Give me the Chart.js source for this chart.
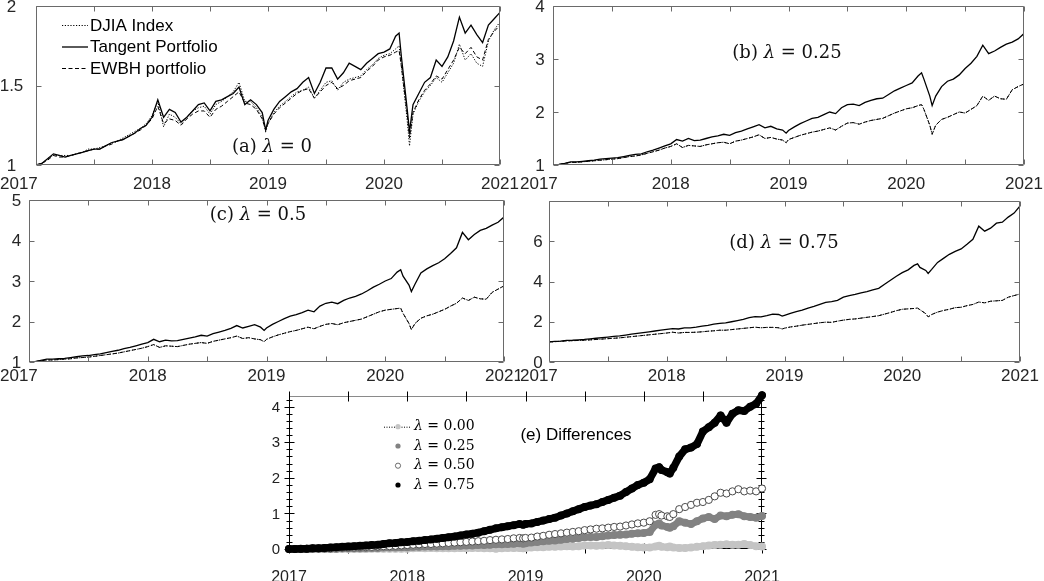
<!DOCTYPE html>
<html>
<head>
<meta charset="utf-8">
<script src="https://cdn.jsdelivr.net/npm/chart.js@4.4.1/dist/chart.umd.min.js"></script>
<style>
  html, body { margin: 0; padding: 0; background: #fff; }
  #fig { position: relative; width: 1044px; height: 581px; overflow: hidden; }
  #fig canvas { position: absolute; }
</style>
</head>
<body>
<div id="fig">
  <canvas id="pa" width="520" height="190" style="left:0;top:0"></canvas>
  <canvas id="pb" width="524" height="190" style="left:520px;top:0"></canvas>
  <canvas id="pc" width="520" height="195" style="left:0;top:190px"></canvas>
  <canvas id="pd" width="524" height="195" style="left:520px;top:190px"></canvas>
  <canvas id="pe" width="540" height="196" style="left:240px;top:385px"></canvas>
</div>
<script>
// ═══════════════════════════════════════════════════════
// DATA · decimal years shared by every panel
// ═══════════════════════════════════════════════════════
const T = [
  2017.00,2017.05,2017.10,2017.15,2017.20,2017.25,2017.30,2017.35,2017.40,2017.45,2017.50,2017.55,2017.60,2017.65,2017.70,2017.75,2017.80,2017.85,2017.90,2017.95,
  2018.00,2018.05,2018.10,2018.15,2018.20,2018.25,2018.30,2018.35,2018.40,2018.45,2018.50,2018.55,2018.60,2018.65,2018.70,2018.75,2018.80,2018.85,2018.90,2018.95,2018.98,
  2019.00,2019.05,2019.10,2019.15,2019.20,2019.25,2019.30,2019.35,2019.40,2019.45,2019.50,2019.55,2019.60,2019.65,2019.70,2019.75,2019.80,2019.85,2019.90,2019.95,
  2020.00,2020.05,2020.10,2020.13,2020.15,2020.20,2020.22,2020.25,2020.30,2020.35,2020.40,2020.45,2020.50,2020.55,2020.60,2020.65,2020.70,2020.75,2020.80,2020.85,2020.90,2020.95,
  2021.00];

// (a) λ = 0
const A_DJIA = [
  1.00,1.01,1.04,1.06,1.06,1.06,1.06,1.07,1.08,1.10,1.10,1.11,1.12,1.14,1.15,1.17,1.19,1.21,1.23,1.26,
  1.31,1.40,1.24,1.32,1.30,1.26,1.30,1.34,1.36,1.37,1.32,1.38,1.40,1.43,1.46,1.52,1.40,1.40,1.36,1.30,1.21,
  1.26,1.33,1.37,1.40,1.43,1.46,1.47,1.49,1.42,1.47,1.52,1.53,1.47,1.52,1.54,1.55,1.56,1.60,1.63,1.67,
  1.69,1.70,1.73,1.75,1.62,1.28,1.12,1.32,1.40,1.46,1.50,1.55,1.52,1.58,1.64,1.76,1.66,1.70,1.64,1.62,1.78,1.85,
  1.90];
const A_TANGENT = [
  1.00,1.01,1.04,1.07,1.06,1.05,1.06,1.07,1.08,1.09,1.10,1.10,1.12,1.14,1.15,1.16,1.18,1.20,1.23,1.25,
  1.30,1.41,1.30,1.35,1.33,1.27,1.30,1.34,1.38,1.39,1.34,1.40,1.41,1.43,1.45,1.49,1.38,1.41,1.38,1.33,1.22,
  1.28,1.35,1.40,1.43,1.46,1.48,1.52,1.55,1.45,1.52,1.61,1.61,1.54,1.58,1.64,1.62,1.60,1.64,1.67,1.70,
  1.71,1.73,1.81,1.83,1.68,1.35,1.21,1.38,1.45,1.52,1.55,1.66,1.62,1.68,1.78,1.93,1.83,1.88,1.82,1.77,1.88,1.92,
  1.96];
const A_EWBH = [
  1.00,1.01,1.03,1.06,1.05,1.05,1.06,1.07,1.08,1.09,1.10,1.10,1.12,1.13,1.15,1.16,1.18,1.20,1.22,1.25,
  1.29,1.37,1.26,1.29,1.28,1.25,1.29,1.32,1.34,1.34,1.30,1.35,1.37,1.40,1.43,1.46,1.39,1.38,1.35,1.29,1.22,
  1.26,1.32,1.36,1.39,1.42,1.45,1.47,1.48,1.42,1.46,1.50,1.52,1.48,1.50,1.53,1.54,1.55,1.59,1.62,1.66,
  1.68,1.69,1.71,1.72,1.62,1.32,1.17,1.33,1.41,1.47,1.51,1.56,1.54,1.60,1.66,1.74,1.70,1.74,1.68,1.66,1.79,1.84,
  1.88];

// (b) λ = 0.25
const B_TANGENT = [
  1.00,1.01,1.03,1.06,1.06,1.07,1.08,1.09,1.11,1.12,1.13,1.14,1.16,1.18,1.20,1.21,1.25,1.28,1.32,1.36,
  1.40,1.48,1.45,1.50,1.46,1.47,1.50,1.53,1.55,1.58,1.56,1.61,1.64,1.68,1.72,1.76,1.70,1.73,1.68,1.66,1.60,
  1.65,1.72,1.78,1.83,1.88,1.90,1.95,2.00,1.97,2.08,2.14,2.15,2.12,2.18,2.22,2.25,2.26,2.33,2.40,2.45,
  2.50,2.55,2.68,2.74,2.62,2.30,2.12,2.30,2.48,2.58,2.62,2.70,2.82,2.92,3.05,3.26,3.10,3.15,3.22,3.28,3.32,3.38,
  3.48];
const B_BENCH = [
  1.00,1.01,1.03,1.05,1.05,1.06,1.07,1.08,1.09,1.10,1.11,1.12,1.14,1.16,1.17,1.19,1.22,1.25,1.28,1.32,
  1.35,1.40,1.33,1.37,1.36,1.35,1.38,1.40,1.42,1.43,1.40,1.45,1.47,1.50,1.53,1.57,1.50,1.52,1.49,1.47,1.42,
  1.48,1.52,1.56,1.59,1.62,1.64,1.67,1.70,1.66,1.73,1.79,1.80,1.77,1.81,1.84,1.86,1.88,1.93,1.98,2.02,
  2.06,2.08,2.12,2.14,2.05,1.75,1.58,1.75,1.86,1.90,1.95,2.00,1.98,2.05,2.12,2.30,2.22,2.30,2.25,2.24,2.42,2.48,
  2.53];

// (c) λ = 0.5
const C_TANGENT = [
  1.00,1.01,1.04,1.07,1.07,1.08,1.09,1.11,1.13,1.15,1.16,1.18,1.20,1.23,1.26,1.29,1.33,1.36,1.40,1.44,
  1.48,1.56,1.50,1.54,1.52,1.53,1.56,1.59,1.62,1.66,1.64,1.70,1.74,1.78,1.83,1.90,1.84,1.88,1.92,1.86,1.78,
  1.84,1.93,2.00,2.07,2.13,2.17,2.22,2.28,2.24,2.38,2.45,2.48,2.44,2.52,2.58,2.62,2.68,2.76,2.85,2.92,
  3.00,3.06,3.22,3.28,3.12,2.90,2.74,2.92,3.20,3.30,3.38,3.45,3.55,3.68,3.82,4.20,4.02,4.15,4.25,4.30,4.38,4.45,
  4.58];
const C_BENCH = [
  1.00,1.01,1.03,1.05,1.05,1.06,1.07,1.08,1.10,1.11,1.12,1.14,1.16,1.18,1.20,1.22,1.25,1.28,1.31,1.34,
  1.38,1.43,1.36,1.40,1.39,1.38,1.41,1.44,1.46,1.48,1.46,1.51,1.54,1.57,1.60,1.64,1.58,1.60,1.57,1.55,1.50,
  1.56,1.62,1.67,1.71,1.75,1.78,1.82,1.86,1.82,1.88,1.93,1.95,1.92,1.97,2.00,2.03,2.06,2.12,2.18,2.24,
  2.28,2.30,2.32,2.33,2.20,1.95,1.80,1.95,2.08,2.14,2.18,2.24,2.30,2.38,2.45,2.58,2.52,2.60,2.56,2.55,2.72,2.80,
  2.88];

// (d) λ = 0.75
const D_TANGENT = [
  1.00,1.02,1.04,1.07,1.08,1.10,1.12,1.15,1.18,1.21,1.24,1.27,1.30,1.34,1.38,1.42,1.46,1.50,1.54,1.58,
  1.62,1.66,1.64,1.70,1.70,1.73,1.78,1.82,1.88,1.92,1.94,2.00,2.06,2.12,2.20,2.25,2.24,2.30,2.38,2.36,2.28,
  2.32,2.42,2.50,2.58,2.68,2.76,2.86,2.96,3.00,3.06,3.22,3.30,3.36,3.44,3.50,3.58,3.66,3.86,4.06,4.26,
  4.44,4.58,4.80,4.88,4.70,4.55,4.40,4.60,4.95,5.15,5.35,5.50,5.62,5.85,6.10,6.75,6.50,6.65,6.90,6.95,7.20,7.40,
  7.75];
const D_BENCH = [
  1.00,1.01,1.03,1.05,1.06,1.07,1.08,1.10,1.12,1.14,1.16,1.18,1.20,1.23,1.26,1.29,1.32,1.35,1.38,1.41,
  1.44,1.48,1.44,1.47,1.47,1.48,1.50,1.53,1.55,1.58,1.58,1.61,1.64,1.67,1.70,1.73,1.70,1.72,1.72,1.70,1.64,
  1.68,1.74,1.78,1.83,1.87,1.91,1.95,1.98,1.97,2.03,2.08,2.12,2.14,2.18,2.22,2.26,2.30,2.38,2.46,2.55,
  2.62,2.64,2.66,2.68,2.60,2.40,2.24,2.36,2.48,2.56,2.62,2.70,2.72,2.80,2.86,2.98,2.94,3.02,3.04,3.06,3.22,3.30,
  3.38];

// (e) differences
const E_L000 = [
  0.00,0.00,0.00,0.00,0.00,0.00,0.00,0.00,0.00,0.00,0.00,0.00,0.00,0.00,0.01,0.01,0.01,0.01,0.01,0.01,
  0.01,0.02,0.03,0.02,0.03,0.02,0.02,0.02,0.02,0.03,0.02,0.03,0.03,0.02,0.02,0.01,0.02,0.03,0.03,0.03,0.02,
  0.03,0.04,0.05,0.05,0.06,0.06,0.07,0.08,0.07,0.08,0.10,0.10,0.09,0.10,0.11,0.10,0.09,0.08,0.06,0.05,
  0.04,0.04,0.07,0.09,0.06,0.05,0.07,0.04,0.03,0.03,0.04,0.06,0.08,0.10,0.11,0.12,0.13,0.12,0.12,0.14,0.11,0.08,
  0.07];
const E_L025 = [
  0.00,0.00,0.00,0.00,0.00,0.01,0.01,0.01,0.01,0.02,0.02,0.02,0.02,0.03,0.03,0.03,0.04,0.04,0.04,0.05,
  0.05,0.06,0.06,0.07,0.07,0.07,0.08,0.08,0.09,0.09,0.10,0.10,0.11,0.11,0.12,0.13,0.13,0.14,0.15,0.16,0.15,
  0.16,0.18,0.20,0.22,0.23,0.24,0.26,0.28,0.29,0.31,0.33,0.34,0.34,0.36,0.38,0.39,0.40,0.41,0.43,0.44,
  0.45,0.48,0.68,0.72,0.66,0.62,0.60,0.64,0.78,0.74,0.70,0.78,0.86,0.90,0.84,0.94,0.92,0.96,0.98,0.92,0.90,0.88,
  0.93];
const E_L050 = [
  0.00,0.00,0.00,0.01,0.01,0.01,0.02,0.02,0.03,0.03,0.04,0.04,0.05,0.05,0.06,0.07,0.08,0.08,0.09,0.10,
  0.11,0.12,0.13,0.14,0.14,0.15,0.16,0.17,0.18,0.19,0.20,0.21,0.22,0.23,0.25,0.26,0.27,0.28,0.30,0.31,0.30,
  0.31,0.32,0.35,0.37,0.40,0.42,0.44,0.46,0.48,0.50,0.53,0.55,0.57,0.58,0.60,0.62,0.63,0.66,0.69,0.72,
  0.74,0.78,0.96,0.98,0.94,0.92,0.90,0.98,1.12,1.18,1.24,1.30,1.32,1.38,1.48,1.58,1.56,1.62,1.68,1.62,1.64,1.62,
  1.70];
const E_L075 = [
  0.00,0.00,0.01,0.01,0.02,0.02,0.03,0.04,0.05,0.06,0.07,0.08,0.09,0.10,0.11,0.12,0.14,0.16,0.17,0.19,
  0.20,0.22,0.23,0.25,0.27,0.29,0.31,0.33,0.35,0.38,0.41,0.43,0.46,0.50,0.54,0.58,0.61,0.64,0.67,0.70,0.68,
  0.70,0.72,0.76,0.80,0.84,0.88,0.94,1.00,1.06,1.12,1.18,1.22,1.26,1.32,1.38,1.44,1.50,1.60,1.70,1.80,
  1.86,1.96,2.26,2.30,2.22,2.16,2.12,2.28,2.60,2.80,2.85,2.95,3.30,3.42,3.55,3.75,3.55,3.80,3.90,3.88,4.00,4.08,
  4.32];

// ticks and labels
const YEAR_TICKS  = [2017, 2018, 2019, 2020, 2021];
const YEAR_LABELS = ['2017', '2018', '2019', '2020', '2021'];
const HALF_YEARS  = [2017, 2017.5, 2018, 2018.5, 2019, 2019.5, 2020, 2020.5, 2021];
const A_YTICKS = [1, 1.5, 2];       const A_YLABELS = ['1', '1.5', '2'];
const B_YTICKS = [1, 2, 3, 4];      const B_YLABELS = ['1', '2', '3', '4'];
const C_YTICKS = [1, 2, 3, 4, 5];   const C_YLABELS = ['1', '2', '3', '4', '5'];
const D_YTICKS = [0, 2, 4, 6, 8];   const D_YLABELS = ['0', '2', '4', '6', ''];
const E_YTICKS = [0, 1, 2, 3, 4];   const E_YLABELS = ['0', '1', '2', '3', '4'];
const LEGEND_A = ['DJIA Index', 'Tangent Portfolio', 'EWBH portfolio'];
const LEGEND_E = ['0.00', '0.25', '0.50', '0.75'];

// ═══════════════════════════════════════════════════════
// STYLES
// ═══════════════════════════════════════════════════════
const SANS  = '"Liberation Sans", Arial, Helvetica, sans-serif';
const SERIF = '"DejaVu Serif", "Liberation Serif", serif';

const djiaStyle    = { borderColor: '#000', borderWidth: 1,   borderDash: [1.2, 1.6] };
const tangentStyle = { borderColor: '#000', borderWidth: 1.3, borderDash: [] };
const ewbhStyle    = { borderColor: '#000', borderWidth: 1,   borderDash: [4, 2.5] };

// markers of panel (e); the band is a thick line under the dots
const lamStyles = [
  { bg: '#c4c4c4', border: '#c4c4c4', bw: 0, r: 4,   line: '#c4c4c4', lw: 7 },
  { bg: '#828282', border: '#828282', bw: 0, r: 4,   line: '#828282', lw: 7 },
  { bg: '#ffffff', border: '#4a4a4a', bw: 1, r: 3.6, line: '#7a7a7a', lw: 1.2 },
  { bg: '#000000', border: '#000000', bw: 0, r: 4,   line: '#000000', lw: 7.5 },
];

const pts = vals => T.map((t, i) => ({ x: t, y: vals[i] }));

// ─── per-panel drawing settings (read by the frame plugin) ───
const PANEL = {
  pa: { yTicks: A_YTICKS, yLabels: A_YLABELS, yLabelX: 11.5, yAlign: 'center', xBase: 189, firstLeft: 0,
        note: { runs: [['(a) ', 0], ['λ', 1], [' = 0', 0]], x: 272, y: 147 }, legend: 'a' },
  pb: { yTicks: B_YTICKS, yLabels: B_YLABELS, yLabelX: 20, yAlign: 'center', xBase: 189, firstLeft: 0,
        note: { runs: [['(b) ', 0], ['λ', 1], [' = 0.25', 0]], x: 267, y: 53 } },
  pc: { yTicks: C_YTICKS, yLabels: C_YLABELS, yLabelX: 16.5, yAlign: 'center', xBase: 191, firstLeft: 0,
        note: { runs: [['(c) ', 0], ['λ', 1], [' = 0.5', 0]], x: 258, y: 25 } },
  pd: { yTicks: D_YTICKS, yLabels: D_YLABELS, yLabelX: 18, yAlign: 'center', xBase: 191, firstLeft: 0,
        note: { runs: [['(d) ', 0], ['λ', 1], [' = 0.75', 0]], x: 264, y: 53 } },
  pe: { yTicks: E_YTICKS, yLabels: E_YLABELS, yLabelX: 40, yAlign: 'right', xBase: 197, firstLeft: null,
        gnu: true, legend: 'e' },
};

// ═══════════════════════════════════════════════════════
// FRAME PLUGIN · box, inward / crossing ticks, labels
// ═══════════════════════════════════════════════════════
function seg(ctx, x1, y1, x2, y2, color) {
  ctx.strokeStyle = color;
  ctx.beginPath(); ctx.moveTo(x1, y1); ctx.lineTo(x2, y2); ctx.stroke();
}

function drawRuns(ctx, runs, x, y, size, align) {
  let w = 0;
  const fonts = runs.map(r => (r[1] ? 'italic ' : '') + size + 'px ' + SERIF);
  const widths = runs.map((r, i) => { ctx.font = fonts[i]; return ctx.measureText(r[0]).width; });
  widths.forEach(v => w += v);
  let cx = align === 'center' ? x - w / 2 : x;
  ctx.textAlign = 'left'; ctx.textBaseline = 'middle';
  runs.forEach((r, i) => { ctx.font = fonts[i]; ctx.fillText(r[0], cx, y); cx += widths[i]; });
}

function drawBox(chart, p) {
  const { ctx, chartArea: a, scales: { x, y } } = chart;
  const L = Math.round(a.left) + 0.5, R = Math.round(a.right) - 0.5;
  const Tp = Math.round(a.top) + 0.5, B = Math.round(a.bottom) - 0.5;
  const axis = p.gnu ? '#000' : '#6a6a6a';
  const top  = p.gnu ? '#8a8a8a' : '#6a6a6a';
  ctx.save();
  ctx.lineWidth = 1; ctx.setLineDash([]);
  seg(ctx, L, Tp, R, Tp, top);
  seg(ctx, L, B, R, B, axis);
  seg(ctx, L, Tp, L, B, axis);
  seg(ctx, R, Tp, R, B, axis);
  const k = 5;
  HALF_YEARS.forEach(v => {
    const px = Math.round(x.getPixelForValue(v)) + 0.5;
    if (p.gnu) { seg(ctx, px, B - k, px, B + k, '#000'); seg(ctx, px, Tp - k, px, Tp + k, '#000'); }
    else { seg(ctx, px, B, px, B - k, axis); seg(ctx, px, Tp, px, Tp + k, axis); }
  });
  p.yTicks.forEach(v => {
    const py = Math.round(y.getPixelForValue(v)) + 0.5;
    if (p.gnu) { seg(ctx, L - k, py, L + k, py, '#000'); seg(ctx, R - k, py, R + k, py, '#000'); }
    else { seg(ctx, L, py, L + k, py, axis); seg(ctx, R, py, R - k, py, axis); }
  });
  if (p.gnu) {
    // minor ticks every 0.2
    for (let v = 0.2; v < 4.3; v += 0.2) {
      if (Math.abs(v - Math.round(v)) < 0.01) continue;
      const py = Math.round(y.getPixelForValue(v)) + 0.5;
      seg(ctx, L - 3, py, L + 3, py, '#000'); seg(ctx, R - 3, py, R + 3, py, '#000');
    }
  }
  ctx.restore();
}

function drawLabels(chart, p) {
  const { ctx, scales: { x, y } } = chart;
  ctx.save();
  ctx.fillStyle = p.gnu ? '#222' : '#262626';
  ctx.font = (p.gnu ? 16 : 17) + 'px ' + SANS;
  ctx.textBaseline = 'alphabetic';
  YEAR_TICKS.forEach((v, i) => {
    if (i === 0 && p.firstLeft != null) {
      ctx.textAlign = 'left'; ctx.fillText(YEAR_LABELS[i], p.firstLeft, p.xBase);
    } else {
      ctx.textAlign = 'center'; ctx.fillText(YEAR_LABELS[i], x.getPixelForValue(v), p.xBase);
    }
  });
  ctx.font = (p.gnu ? 15 : 17) + 'px ' + SANS;
  ctx.textBaseline = 'middle'; ctx.textAlign = p.yAlign;
  p.yTicks.forEach((v, i) => ctx.fillText(p.yLabels[i], p.yLabelX, y.getPixelForValue(v) + 1));
  ctx.restore();
}

function drawLegendA(ctx) {
  const styles = [djiaStyle, tangentStyle, ewbhStyle];
  const rows = [25, 46.5, 68];
  ctx.save();
  LEGEND_A.forEach((name, i) => {
    const s = styles[i];
    ctx.lineWidth = s.borderWidth; ctx.setLineDash(s.borderDash);
    seg(ctx, 62, rows[i] + 0.5, 88, rows[i] + 0.5, '#000');
    ctx.setLineDash([]);
    ctx.fillStyle = '#000'; ctx.font = '17px ' + SANS;
    ctx.textAlign = 'left'; ctx.textBaseline = 'middle';
    ctx.fillText(name, 90, rows[i] + 1);
  });
  ctx.restore();
}

function drawLegendE(ctx) {
  const rows = [41.7, 61, 80.7, 100];
  ctx.save();
  // dotted line only on the first entry
  ctx.lineWidth = 1; ctx.setLineDash([1, 1.5]);
  seg(ctx, 144, rows[0] + 0.5, 171, rows[0] + 0.5, '#000');
  ctx.setLineDash([]);
  LEGEND_E.forEach((v, i) => {
    const s = lamStyles[i];
    ctx.beginPath(); ctx.arc(158, rows[i], 2.6, 0, Math.PI * 2);
    ctx.fillStyle = s.bg; ctx.fill();
    if (s.bw) { ctx.lineWidth = 0.8; ctx.strokeStyle = s.border; ctx.stroke(); }
    ctx.fillStyle = '#000';
    drawRuns(ctx, [['λ', 1], [' = ' + v, 0]], 174, rows[i], 14, 'left');
  });
  ctx.font = '17px ' + SANS; ctx.textAlign = 'center'; ctx.textBaseline = 'middle';
  ctx.fillText('(e) Differences', 336, 50);
  ctx.restore();
}

const frame = {
  id: 'frame',
  beforeDatasetsDraw(chart) { const p = PANEL[chart.canvas.id]; if (p.gnu) drawBox(chart, p); },
  afterDatasetsDraw(chart)  { const p = PANEL[chart.canvas.id]; if (!p.gnu) drawBox(chart, p); },
  afterDraw(chart) {
    const p = PANEL[chart.canvas.id];
    const ctx = chart.ctx;
    drawLabels(chart, p);
    if (p.note) { ctx.save(); ctx.fillStyle = '#111'; drawRuns(ctx, p.note.runs, p.note.x, p.note.y, 18, 'center'); ctx.restore(); }
    if (p.legend === 'a') drawLegendA(ctx);
    if (p.legend === 'e') drawLegendE(ctx);
  }
};

// ═══════════════════════════════════════════════════════
// CHARTS
// ═══════════════════════════════════════════════════════
function makePanel(id, type, datasets, g) {
  return new Chart(document.getElementById(id), {
    type,
    data: { datasets },
    options: {
      responsive: false, animation: false, devicePixelRatio: 1,
      layout: { padding: { top: g.top, right: g.right, bottom: 0, left: 0 } },
      elements: { point: { radius: 0 }, line: { tension: 0 } },
      plugins: { legend: { display: false }, tooltip: { enabled: false } },
      scales: {
        x: { type: 'linear', min: 2017, max: 2021,
             grid: { display: false }, border: { display: false }, ticks: { display: false },
             afterFit: s => { s.height = g.xh; } },
        y: { type: 'linear', min: g.ymin, max: g.ymax,
             grid: { display: false }, border: { display: false }, ticks: { display: false },
             afterFit: s => { s.width = g.yw; } }
      }
    },
    plugins: [frame]
  });
}

function threeLines(tangent, djia, ewbh) {
  return [
    { label: LEGEND_A[0], data: pts(djia), ...djiaStyle },
    { label: LEGEND_A[2], data: pts(ewbh), ...ewbhStyle },
    { label: LEGEND_A[1], data: pts(tangent), ...tangentStyle },
  ];
}

makePanel('pa', 'line', threeLines(A_TANGENT, A_DJIA, A_EWBH),   { top: 6,  right: 20, xh: 25, yw: 36, ymin: 1, ymax: 2 });
makePanel('pb', 'line', threeLines(B_TANGENT, B_BENCH, B_BENCH), { top: 6,  right: 20, xh: 25, yw: 33, ymin: 1, ymax: 4 });
makePanel('pc', 'line', threeLines(C_TANGENT, C_BENCH, C_BENCH), { top: 10, right: 16, xh: 23, yw: 29, ymin: 1, ymax: 5 });
makePanel('pd', 'line', threeLines(D_TANGENT, D_BENCH, D_BENCH), { top: 11, right: 24, xh: 23, yw: 29, ymin: 0, ymax: 8 });

const diffSeries = [E_L000, E_L025, E_L050, E_L075];
makePanel('pe', 'scatter', diffSeries.map((vals, i) => ({
  label: 'λ = ' + LEGEND_E[i],
  data: pts(vals),
  order: 3 - i,
  clip: false,
  showLine: true,
  borderColor: lamStyles[i].line,
  borderWidth: lamStyles[i].lw,
  borderJoinStyle: 'round',
  borderCapStyle: 'round',
  pointRadius: lamStyles[i].r,
  pointBackgroundColor: lamStyles[i].bg,
  pointBorderColor: lamStyles[i].border,
  pointBorderWidth: lamStyles[i].bw,
})), { top: 11, right: 18, xh: 32, yw: 49, ymin: 0, ymax: 4.3 });
</script>
</body>
</html>
